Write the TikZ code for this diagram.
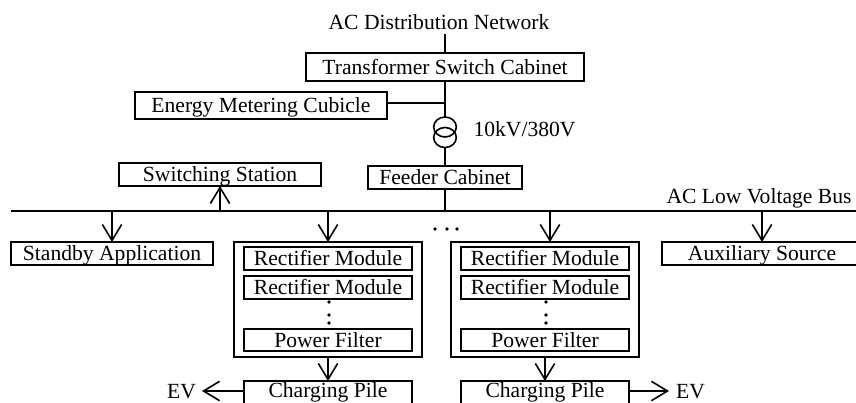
\documentclass[tikz,border=0pt]{standalone}
\usepackage{fontspec}
\setmainfont{Liberation Serif}
\usetikzlibrary{arrows.meta,shapes.geometric}
\newcommand{\bx}[6]{\node[blk,minimum width={(#4-#2)*0.75pt},minimum height={(#5-#3)*0.75pt}] (#1) at ({(#2+#4)/2},{(#3+#5)/2}) {#6};}
\tikzset{
  txt/.style={font=\fontsize{16.2}{18}\selectfont,text height=12pt,text depth=0pt},
  blk/.style={draw,line width=1.2pt,inner sep=0pt,outer sep=0pt,txt,text height=11.2pt},
  lbl/.style={inner sep=0pt,outer sep=0pt,txt},
  wire/.style={line width=1.2pt},
  arr/.style={line width=1.2pt,-{Straight Barb[length=12pt,width=14.5pt,line width=1.2pt]}},
  coil/.style={draw,ellipse,line width=1.2pt,minimum width=17pt,minimum height=15pt,inner sep=0pt,outer sep=0pt},
  vdot/.style={circle,fill,minimum size=2.9pt,inner sep=0pt,outer sep=0pt}
}
\begin{document}
\begin{tikzpicture}[x=0.75pt,y=-0.75pt]
\useasboundingbox (0,0) rectangle (856,403);
\clip (0,0) rectangle (856,403);
\node[lbl] (net) at (439,22) {AC Distribution Network};
\bx{tsc}{306}{53}{584}{81}{Transformer Switch Cabinet}
\bx{emc}{135}{92}{387}{119}{Energy Metering Cubicle}
\node[coil] (c1) at (445,127) {};
\node[coil] (c2) at (445,137.5) {};
\node[lbl] (ratio) at (524.5,128) {10kV/380V};
\bx{fc}{368}{166}{522}{189}{Feeder Cabinet}
\bx{ss}{119}{163}{321}{186}{Switching Station}
\coordinate (busL) at (11,211);
\coordinate (busR) at (856,211);
\coordinate (netb) at (445,34);
\coordinate (tee) at (445,103);
\node[lbl] (buslbl) at (759,195) {AC Low Voltage Bus};
\bx{sa}{11}{242}{213}{265}{Standby Application}
\bx{aux}{662}{242}{862}{265}{Auxiliary Source}
\bx{o1}{234}{242}{422}{357}{}
\bx{r11}{244}{247}{412}{270}{Rectifier Module}
\bx{r12}{244}{276}{412}{299}{Rectifier Module}
\bx{p1}{244}{329}{412}{351}{Power Filter}
\bx{cp1}{244}{381}{412}{406}{\raisebox{2.6pt}{Charging Pile}}
\bx{o2}{451}{242}{639}{357}{}
\bx{r21}{461}{247}{629}{270}{Rectifier Module}
\bx{r22}{461}{276}{629}{299}{Rectifier Module}
\bx{p2}{461}{329}{629}{351}{Power Filter}
\bx{cp2}{461}{381}{629}{406}{\raisebox{2.6pt}{Charging Pile}}
\node[lbl] (ev1) at (181.5,390) {EV};
\node[lbl] (ev2) at (690.5,390) {EV};
\coordinate (ev1t) at (202,391);
\coordinate (ev2t) at (669,391);
\foreach \n/\x/\y in {a/329/302,b/329/315,c/329/323,d/546/302,e/546/315,f/546/323,g/435/229,h/447/229,i/457/229}
  \node[vdot] (dot\n) at (\x,\y) {};
\draw[wire] (busL) -- (busR);
\draw[wire] (netb) -- (netb |- tsc.north);
\draw[wire] (tsc.south) -- (c1.north);
\draw[wire] (emc.east |- tee) -- (tee);
\draw[wire] (c2.south) -- (fc.north);
\draw[wire] (fc.south) -- (fc.south |- busL);
\draw[arr] (ss.south |- busL) -- (ss.south);
\draw[arr] (sa.north |- busL) -- (sa.north);
\draw[arr] (o1.north |- busL) -- (o1.north);
\draw[arr] ([xshift=3.75pt]o2.north |- busL) -- ([xshift=3.75pt]o2.north);
\draw[arr] (aux.north |- busL) -- (aux.north);
\draw[arr] (o1.south) -- (cp1.north);
\draw[arr] (o2.south) -- (cp2.north);
\draw[arr] (cp1.west |- ev1t) -- (ev1t);
\draw[arr] (cp2.east |- ev2t) -- (ev2t);
\end{tikzpicture}
\end{document}
